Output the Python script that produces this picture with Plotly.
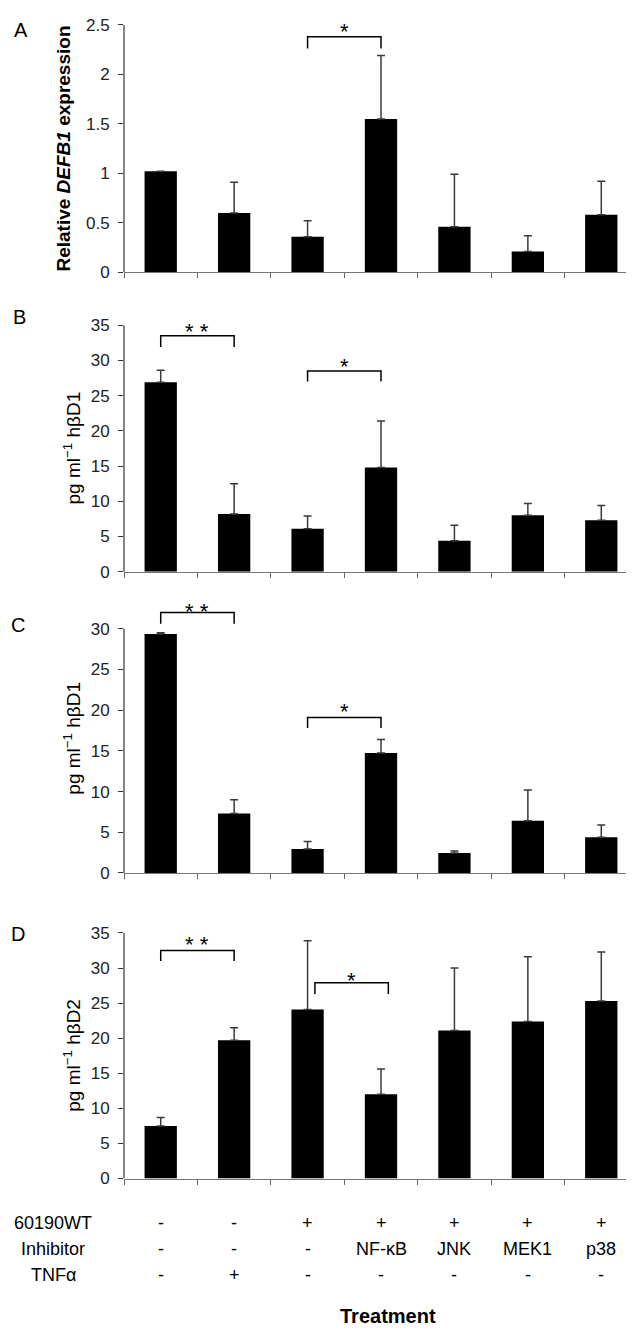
import plotly.graph_objects as go

# ---------------- data ----------------
treat_60190 = ["-", "-", "+", "+", "+", "+", "+"]
treat_inhib = ["-", "-", "-", "NF-κB", "JNK", "MEK1", "p38"]
treat_tnf = ["-", "+", "-", "-", "-", "-", "-"]
row_labels = ["60190WT", "Inhibitor", "TNFα"]

a_mean = [1.02, 0.60, 0.36, 1.55, 0.46, 0.21, 0.58]
a_top = [None, 0.91, 0.52, 2.19, 0.99, 0.37, 0.92]

b_mean = [26.9, 8.2, 6.1, 14.8, 4.4, 8.0, 7.3]
b_top = [28.6, 12.5, 7.9, 21.4, 6.6, 9.7, 9.4]

c_mean = [29.35, 7.3, 2.95, 14.75, 2.45, 6.4, 4.4]
c_top = [29.5, 9.0, 3.85, 16.4, 2.7, 10.2, 5.9]

d_mean = [7.5, 19.7, 24.1, 12.0, 21.1, 22.4, 25.3]
d_top = [8.7, 21.5, 33.9, 15.6, 30.0, 31.6, 32.3]

# significance: (x_left, x_right, y_bar, y_leg, y_star, label)
a_sig = [(2.0, 3.0, 2.38, 2.26, 2.49, "*")]
b_sig = [(0.0, 1.0, 33.5, 31.9, 35.0, "* *"), (2.0, 3.0, 28.5, 27.0, 30.0, "*")]
c_sig = [(0.0, 1.0, 32.0, 30.6, 32.9, "* *"), (2.0, 3.0, 19.1, 17.8, 20.6, "*")]
d_sig = [(0.0, 1.0, 32.5, 31.0, 34.2, "* *"), (2.1, 3.1, 27.9, 26.3, 29.05, "*")]

panels = [
    dict(letter="A", mean=a_mean, top=a_top, sig=a_sig, rng=[0, 2.5], dtick=0.5, axtop=2.5,
         dom=[0.8053, 0.9940], title="<b>Relative <i>DEFB1</i> expression</b>", tx=56, tsize=19,
         lx=13, ly=13),
    dict(letter="B", mean=b_mean, top=b_top, sig=b_sig, rng=[0, 35], dtick=5, axtop=35,
         dom=[0.5769, 0.7649], title="pg ml<sup>−1</sup> hβD1", tx=64, tsize=19, lx=11, ly=304),
    dict(letter="C", mean=c_mean, top=c_top, sig=c_sig, rng=[0, 33], dtick=5, axtop=30,
         dom=[0.3471, 0.5520], title="pg ml<sup>−1</sup> hβD1", tx=64, tsize=19, lx=10, ly=617),
    dict(letter="D", mean=d_mean, top=d_top, sig=d_sig, rng=[0, 35], dtick=5, axtop=35,
         dom=[0.1140, 0.3013], title="pg ml<sup>−1</sup> hβD2", tx=64, tsize=19, lx=10, ly=930),
]

W, H = 634, 1330
FONT = "Liberation Sans, Arial, sans-serif"
xs = list(range(len(treat_inhib)))
x_dom = [116 / W, 630 / W]

fig = go.Figure()
shapes = []
annotations = []

for i, p in enumerate(panels):
    n = "" if i == 0 else str(i + 1)
    xa, ya = "x" + n, "y" + n
    err = [None if t is None else t - m for m, t in zip(p["mean"], p["top"])]
    fig.add_trace(go.Bar(
        x=xs, y=p["mean"], xaxis=xa, yaxis=ya,
        marker=dict(color="black", line=dict(width=0)),
        error_y=dict(type="data", symmetric=False, array=err,
                     arrayminus=[0] * len(err), color="#3a3a3a", thickness=1.5, width=4),
        showlegend=False, hoverinfo="skip",
    ))
    fig.layout["xaxis" + n] = dict(
        domain=x_dom, anchor=ya, range=[-0.5, 6.5],
        tickvals=[k - 0.5 for k in range(len(xs) + 1)], ticks="outside", ticklen=5,
        tickcolor="#666666", showticklabels=False, showline=True, linecolor="#777777",
        linewidth=1.2, showgrid=False, zeroline=False, fixedrange=True,
    )
    fig.layout["yaxis" + n] = dict(
        domain=p["dom"], anchor=xa, range=p["rng"], dtick=p["dtick"], tick0=0,
        ticks="outside", ticklen=5, tickcolor="#333333", showline=False,
        showgrid=False, zeroline=False, ticklabelstandoff=5,
        tickfont=dict(family=FONT, size=17, color="#222222"), fixedrange=True,
    )
    # y axis line (only up to top tick)
    shapes.append(dict(type="line", xref=xa + " domain", yref=ya, x0=0, x1=0, y0=0,
                       y1=p["axtop"], line=dict(color="#333333", width=1.2)))
    # significance brackets
    for (x0, x1, yb, yl, ys, lab) in p["sig"]:
        shapes.append(dict(type="path", xref=xa, yref=ya,
                           path=f"M {x0},{yl} L {x0},{yb} L {x1},{yb} L {x1},{yl}",
                           line=dict(color="black", width=1.5)))
        annotations.append(dict(x=(x0 + x1) / 2, y=ys, xref=xa, yref=ya, text=lab,
                                showarrow=False, yshift=-6,
                                font=dict(family=FONT, size=22, color="black")))
    # axis title
    annotations.append(dict(x=p["tx"] / W, y=0.5, xref="paper", yref=ya + " domain",
                            text=p["title"], textangle=-90, showarrow=False,
                            xanchor="center", yanchor="middle",
                            font=dict(family=FONT, size=p["tsize"], color="black")))
    # panel letter
    annotations.append(dict(x=p["lx"] / W, y=1 - p["ly"] / H, xref="paper", yref="paper",
                            text=p["letter"], showarrow=False, xanchor="center",
                            yanchor="middle", font=dict(family=FONT, size=20, color="black")))

# treatment table under panel D
rows = [treat_60190, treat_inhib, treat_tnf]
row_y = [1223, 1250, 1276]
for lab, vals, yp in zip(row_labels, rows, row_y):
    annotations.append(dict(x=45 / W, y=1 - yp / H, xref="paper", yref="paper", text=lab,
                            showarrow=False, xanchor="center", yanchor="middle",
                            font=dict(family=FONT, size=18, color="black")))
    for k, v in enumerate(vals):
        annotations.append(dict(x=xs[k], y=1 - yp / H, xref="x4", yref="paper", text=v,
                                showarrow=False, xanchor="center", yanchor="middle",
                                font=dict(family=FONT, size=18, color="black")))
annotations.append(dict(x=380 / W, y=1 - 1318 / H, xref="paper", yref="paper",
                        text="<b>Treatment</b>", showarrow=False, xanchor="center",
                        yanchor="middle", font=dict(family=FONT, size=20, color="black")))

fig.update_layout(
    width=W, height=H, margin=dict(l=0, r=0, t=0, b=0),
    paper_bgcolor="white", plot_bgcolor="white",
    bargap=0.56, showlegend=False,
    shapes=shapes, annotations=annotations,
    font=dict(family=FONT),
)

fig.write_html("out.html")
